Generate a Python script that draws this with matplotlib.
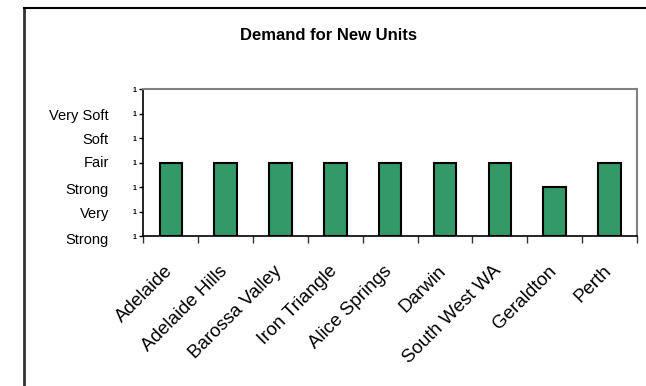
import matplotlib
matplotlib.use('Agg')
import matplotlib.pyplot as plt
from matplotlib.lines import Line2D
from matplotlib.transforms import ScaledTranslation
import numpy as np

# data
regions = ['Adelaide', 'Adelaide Hills', 'Barossa Valley', 'Iron Triangle',
           'Alice Springs', 'Darwin', 'South West WA', 'Geraldton', 'Perth']
demand = [3, 3, 3, 3, 3, 3, 3, 2, 3]
rating_names = ['Very Soft', 'Soft', 'Fair', 'Strong', 'Very', 'Strong']
rating_pos = [4.88, 3.9, 2.98, 1.88, 0.9, -0.16]

plt.rcParams['font.family'] = ['Liberation Sans', 'DejaVu Sans']

fig = plt.figure(figsize=(6.46, 3.86), dpi=100)
ax = fig.add_axes([0.2221, 0.3886, 0.7639, 0.3808])

x = np.arange(len(regions))
ax.bar(x, demand, width=0.41, color='#339966', edgecolor='black', linewidth=1.5, zorder=3)

ax.set_xlim(-0.5, len(regions) - 0.5)
ax.set_ylim(0, 6)

# y axis: tiny "1" tick labels, word labels on the side
ax.set_yticks(range(7))
ax.set_yticklabels(['1'] * 7, fontsize=5, fontweight='bold')
ax.tick_params(axis='y', direction='out', length=3, width=1, pad=2)
for name, yp in zip(rating_names, rating_pos):
    ax.text(-0.07, yp, name, transform=ax.get_yaxis_transform(), ha='right', va='center',
            fontsize=10.5)

# x axis: ticks between categories
ax.set_xticks(np.arange(-0.5, len(regions)), minor=False)
ax.set_xticklabels([''] * (len(regions) + 1))
ax.set_xticks(x, minor=True)
ax.set_xticklabels(regions, minor=True, rotation=45, ha='right', va='top',
                   rotation_mode='anchor', fontsize=13.5)
ax.tick_params(axis='x', which='major', direction='out', length=5, width=1, color='#333333')
ax.tick_params(axis='x', which='minor', length=0, pad=19)
shift = ScaledTranslation(-0.07, 0, fig.dpi_scale_trans)
for lab in ax.get_xticklabels(minor=True):
    lab.set_transform(lab.get_transform() + shift)

for s in ['top', 'right']:
    ax.spines[s].set_color('#808080')
    ax.spines[s].set_linewidth(1.5)
for s in ['left', 'bottom']:
    ax.spines[s].set_color('#000000')
    ax.spines[s].set_linewidth(1.2)

fig.text(0.508, 0.909, 'Demand for New Units', ha='center', va='center',
         fontsize=12, fontweight='bold')

# outer frame (left and top only visible)
fig.add_artist(Line2D([0.0364, 0.0364], [0, 0.979], color='#333333', linewidth=2,
                      transform=fig.transFigure))
fig.add_artist(Line2D([0.0364, 1.0], [0.979, 0.979], color='black', linewidth=1.5,
                      transform=fig.transFigure))

fig.savefig('out.png', dpi=100)
